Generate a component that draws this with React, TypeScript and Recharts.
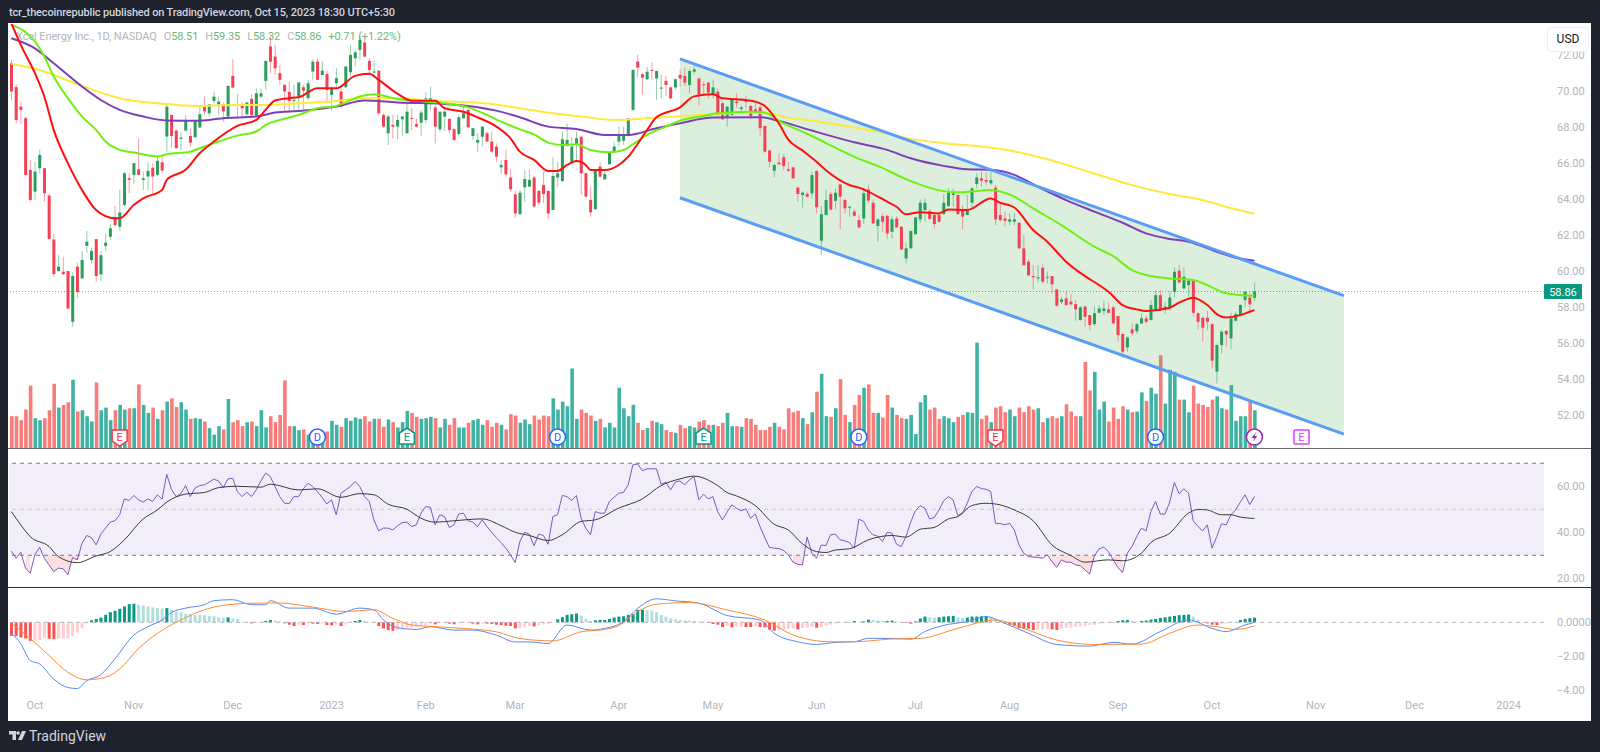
import { Area, Bar, Cell, ComposedChart, Line, ReferenceArea, ReferenceDot, ReferenceLine, XAxis, YAxis } from "recharts";

type Candle = [number, number, number, number];
type Point = [number, number];

// open, high, low, close for each daily bar, Sep 2022 -> Oct 13 2023
const candles: Candle[] = [
  [71.54,71.73,69.5,69.97],[70.21,70.34,68.21,68.39],[69.13,69.41,68.17,68.95],[68.49,68.58,65.25,65.34],[65.62,66.17,63.86,63.95],
  [64.41,66.08,63.95,65.52],[65.71,66.73,65.43,66.45],[65.71,65.71,63.86,64.32],[64.19,64.3,61.7,61.78],[61.75,62.09,59.68,59.83],
  [60.0,60.88,59.96,60.24],[59.96,60.79,59.77,59.83],[60.0,60.0,57.9,57.92],[57.18,59.96,56.9,59.72],[60.24,60.46,58.53,58.83],
  [59.59,61.11,59.55,60.61],[61.4,62.22,61.0,61.63],[60.61,61.29,60.42,61.11],[61.77,61.77,59.4,59.72],[59.81,61.11,59.46,60.88],
  [61.4,62.09,61.13,61.57],[61.9,62.61,61.72,62.37],[63.0,63.6,62.5,62.55],[62.46,64.5,62.24,63.25],[63.67,65.5,63.6,65.43],
  [65.15,65.43,64.32,65.06],[65.34,65.99,64.84,65.99],[65.65,67.37,65.34,65.34],[65.06,65.52,64.5,65.15],[65.25,66.04,64.5,65.56],
  [65.74,65.99,64.23,65.25],[65.34,66.41,65.25,66.12],[66.04,66.36,65.43,65.58],[67.47,69.32,66.63,69.13],[68.67,68.67,66.82,67.5],
  [67.8,67.85,66.8,66.82],[67.34,67.75,66.73,67.41],[67.8,68.67,67.75,68.39],[67.5,67.93,66.91,67.13],[67.43,68.4,67.4,68.39],
  [67.97,69.17,67.93,68.71],[69.1,69.69,68.67,68.86],[68.76,69.28,68.58,69.26],[69.45,69.97,69.32,69.69],[69.26,69.69,68.67,69.41],
  [69.26,69.36,68.3,68.86],[68.58,70.28,68.49,70.28],[70.84,71.76,70.15,70.19],[69.26,69.82,68.54,69.17],[69.17,69.36,68.58,69.04],
  [68.71,69.41,68.58,69.36],[69.56,69.82,68.58,68.67],[68.63,70.15,68.58,69.87],[69.69,70.15,69.6,69.87],[70.56,71.67,70.06,71.67],
  [72.47,73.02,70.99,71.63],[71.91,72.56,70.89,71.26],[70.99,71.45,70.34,70.62],[70.34,70.34,68.86,69.97],[69.95,70.52,68.86,69.45],
  [69.45,70.34,68.86,69.5],[69.69,70.47,68.95,70.47],[70.21,70.34,68.95,70.02],[69.6,70.62,69.5,70.43],[71.08,71.76,70.62,71.63],
  [71.63,71.8,70.6,70.62],[70.89,71.63,70.89,71.13],[70.95,71.13,69.32,70.06],[69.78,70.25,68.91,70.15],[70.43,71.26,70.25,70.71],
  [69.97,70.15,69.04,69.13],[70.21,71.36,70.15,71.36],[71.04,72.56,70.8,72.0],[71.82,72.28,71.36,72.15],[72.28,73.02,71.73,72.84],
  [72.69,72.93,71.87,71.91],[71.67,71.82,70.89,71.17],[71.02,71.73,70.8,71.08],[71.12,71.17,68.67,68.76],[68.67,68.76,67.93,68.02],
  [67.65,68.67,67.0,68.58],[68.12,68.67,67.37,68.02],[68.02,68.67,67.32,68.39],
  [68.43,68.61,67.5,68.58],[67.65,69.5,67.65,68.85],[68.5,69.04,67.83,68.46],[68.17,68.48,67.98,68.02],[68.24,68.95,67.5,68.8],
  [68.39,69.96,68.2,69.59],[69.41,70.24,68.95,69.59],[69.09,69.22,67.09,68.02],[67.87,68.85,67.74,68.85],[68.58,69.13,67.78,68.85],
  [68.45,68.48,67.65,67.83],[67.87,67.93,67.19,67.28],[67.61,68.67,67.46,68.54],[68.48,69.22,68.48,68.76],[68.95,68.98,67.96,67.98],
  [67.5,67.96,67.28,67.93],[67.13,67.65,66.63,67.28],[67.46,68.06,66.91,68.02],[67.65,67.74,67.18,67.19],[67.19,67.74,66.57,66.63],
  [66.91,67.09,66.07,66.35],[65.76,66.13,65.39,65.89],[66.17,66.76,65.24,65.37],[65.19,65.65,64.41,64.54],[64.26,64.45,62.96,63.2],
  [63.17,64.5,63.11,64.35],[64.65,65.61,63.85,65.11],[64.69,65.61,64.65,65.06],[65.19,65.28,63.48,63.58],[64.45,64.5,63.67,63.8],
  [64.78,65.52,63.76,64.28],[64.45,64.45,62.87,63.2],[63.39,66.32,63.39,65.28],[65.2,66.07,64.65,65.43],[65.0,67.74,64.96,67.32],
  [66.95,68.2,66.91,67.28],[66.07,67.43,65.98,66.91],[67.06,67.74,66.07,67.37],[67.46,67.46,64.22,65.43],[65.43,65.46,64.09,64.13],
  [63.95,64.69,63.02,63.26],[63.43,65.6,63.4,65.57],[65.8,66.07,65.19,65.24],[65.09,65.52,65.06,65.39],[65.93,66.6,65.9,66.58],
  [66.63,67.13,66.57,66.91],[67.19,68.02,66.91,67.5],[67.24,68.02,67.0,67.5],[67.61,68.5,67.46,68.48],[68.95,71.2,68.9,71.17],
  [71.63,72.0,70.74,71.3],[70.93,70.98,69.78,70.74],[70.65,71.32,70.61,71.07],[71.17,71.59,70.61,71.11],[70.7,71.13,69.5,71.11],
  [70.13,70.89,69.59,70.19],[70.56,70.83,69.74,70.33],[70.2,70.24,69.54,69.59],[70.2,70.7,70.06,70.65],[70.89,71.2,70.24,70.7],
  [70.83,71.3,70.28,70.46],[70.33,71.2,69.87,71.11],[71.07,71.39,70.93,71.2],[70.7,70.7,69.22,69.78],[70.37,70.52,69.72,70.32],
  [70.46,70.52,69.59,69.91],[69.78,70.61,69.59,70.2],[69.96,70.15,68.61,68.67],[69.32,69.41,68.39,68.43],[68.54,69.17,68.02,69.13],
  [68.67,69.6,68.61,69.59],[69.41,69.87,69.04,69.32],[69.0,69.22,68.76,69.09],[69.5,69.72,69.04,69.41],[69.17,69.22,68.43,68.61],
  [68.98,69.41,68.76,68.85],[69.09,69.22,67.5,67.93],[68.06,68.06,66.57,66.63],[66.69,66.76,65.76,66.07],[65.57,65.98,65.2,65.89],
  [66.02,66.54,65.89,65.93],[66.32,66.5,65.61,65.83],[65.65,66.07,65.52,65.57],[65.76,65.8,65.11,65.15],[64.63,64.7,63.85,64.28],
  [64.22,64.41,63.53,64.35],[64.28,64.41,64.09,64.13],[64.31,65.52,64.03,65.33],[65.55,65.61,63.2,63.54],[61.68,63.61,60.89,63.16],
  [63.11,64.53,63.1,63.94],[64.28,64.41,63.35,63.42],[63.9,64.59,63.42,64.35],[64.81,64.81,62.33,64.13],[63.94,64.03,63.2,63.48],
  [63.54,63.61,63.02,63.57],[63.3,63.42,63.02,63.07],[62.83,63.11,62.37,62.42],[62.92,64.65,62.61,64.31],[64.53,64.77,63.79,63.91],
  [63.79,63.98,62.61,62.65],[62.5,62.92,61.63,62.87],[63.05,63.2,62.18,62.74],[63.07,63.11,61.76,62.09],[62.18,63.05,61.81,62.87],
  [62.92,63.05,62.4,62.42],[62.46,62.5,61.16,61.2],[60.7,61.57,60.42,61.26],[61.26,62.25,61.24,62.22],[62.05,63.0,62.0,62.98],
  [62.87,63.98,62.68,63.79],[63.39,64.03,62.74,63.79],[63.33,63.42,62.87,62.89],[63.11,63.15,62.37,62.61],[63.11,63.2,62.68,62.74],
  [63.16,64.28,63.11,63.79],[63.61,64.59,63.57,64.35],[64.22,64.59,63.57,64.31],[64.22,64.31,63.11,63.16],[63.42,63.66,62.31,63.02],
  [63.11,64.22,63.1,63.39],[63.79,64.65,63.42,64.59],[64.83,65.42,64.59,65.2],[65.15,65.52,64.68,65.02],[65.05,65.46,64.78,64.96],
  [64.87,65.61,64.78,65.05],[64.63,64.78,62.55,62.87],[63.11,63.76,62.74,62.83],[62.92,63.29,62.46,62.79],[62.74,63.2,62.55,62.87],
  [62.74,63.24,62.55,62.87],[62.68,62.68,61.2,61.26],[61.26,62.0,60.28,60.33],[60.52,60.65,59.72,59.76],[59.72,60.33,58.98,59.65],
  [59.59,60.33,59.35,59.65],[60.18,60.39,59.31,59.41],[59.63,59.96,59.31,59.68],[59.72,59.72,58.76,59.26],[58.98,58.98,58.02,58.07],
  [58.28,58.57,58.16,58.42],[58.48,58.9,58.07,58.11],[58.3,58.72,58.07,58.15],[58.16,58.39,57.24,57.87],[57.28,58.05,57.24,57.98],
  [58.02,58.11,56.91,57.46],[57.55,57.55,56.72,57.0],[57.05,58.05,56.96,57.65],[57.68,58.11,57.65,57.92],[57.78,58.35,57.55,57.92],
  [57.87,58.24,57.65,57.68],[57.98,58.05,57.05,57.09],[57.5,57.5,56.07,56.44],[56.5,56.54,55.18,55.52],[55.76,56.35,55.52,56.31],
  [56.76,57.09,56.39,56.54],[56.66,57.13,56.5,57.05],[57.09,57.65,57.05,57.37],[57.37,57.5,57.09,57.18],[57.28,58.39,57.24,58.11],
  [57.87,58.94,57.83,58.66],[58.66,58.94,57.83,57.87],[57.87,58.29,57.61,58.02],[57.92,58.85,57.79,58.53],[58.85,60.2,58.53,59.96],
  [60.02,60.33,59.31,59.37],[59.03,60.2,58.98,59.68],[59.22,59.59,58.57,59.46],[59.5,59.5,57.46,57.68],[57.65,57.74,56.76,57.18],
  [57.4,57.46,56.11,56.85],[57.4,57.79,56.72,57.18],[57.05,57.09,54.59,55.02],[54.41,55.98,53.76,55.89],[55.89,56.72,55.42,56.63],
  [56.67,56.72,55.8,56.48],[56.26,57.68,55.65,57.37],[57.24,57.74,57.18,57.61],[57.55,58.16,57.46,58.11],[58.39,58.9,57.98,58.85],
  [58.53,58.75,57.79,58.15],[58.51,59.35,58.32,58.86],
];

// in millions of shares
const volumes = [
  4.8,4.8,4.2,5.8,9.4,4.5,4.2,4.5,5.7,9.7,6.1,6.5,6.9,10.3,5.5,5.7,4.8,4.0,9.9,5.7,6.1,4.2,5.7,6.5,5.8,6.0,6.0,9.6,6.5,5.3,
  6.1,4.4,5.7,7.0,7.5,6.2,6.9,5.8,4.4,4.5,4.4,4.0,3.0,2.0,3.3,2.8,7.4,3.9,4.2,3.3,3.9,4.0,3.3,5.7,3.1,4.8,3.9,5.0,10.2,3.3,
  3.3,2.7,2.8,2.0,2.2,2.4,2.5,2.5,4.1,3.5,3.2,4.5,4.1,4.6,4.4,4.8,4.0,4.4,4.4,3.2,4.3,3.9,3.1,
  3.9,5.6,5.3,4.7,4.4,4.5,4.7,4.5,3.1,4.4,3.5,4.5,3.1,3.1,3.8,4.2,4.4,3.5,4.2,3.2,3.8,3.5,2.8,5.1,4.9,3.8,
  4.3,3.6,4.9,4.3,4.9,4.8,7.5,5.8,7.0,6.3,12.0,4.4,5.8,5.3,4.9,4.1,4.4,3.1,3.8,3.1,9.1,6.0,4.8,6.5,3.8,2.7,3.0,4.1,3.9,3.6,
  2.7,2.4,2.3,3.5,3.0,3.3,3.1,4.0,4.2,3.5,3.5,3.3,3.8,5.3,3.3,3.3,3.2,4.5,4.4,3.5,2.7,2.7,3.2,3.8,3.2,2.8,6.0,5.4,5.6,4.5,
  3.6,5.4,8.5,11.2,
  4.8,4.7,6.0,10.4,5.0,3.9,6.5,8.0,9.1,9.6,5.3,5.3,4.6,8.0,6.1,5.0,4.5,4.4,5.0,2.1,6.9,8.0,5.8,6.1,4.4,4.8,4.5,3.9,4.7,5.0,
  5.4,5.3,15.9,4.4,4.9,3.9,6.1,6.3,5.4,5.8,4.8,6.1,5.4,6.3,5.8,6.0,3.9,4.5,4.8,4.5,4.8,6.6,5.5,4.8,4.8,13.0,8.7,11.5,5.8,7.0,
  4.0,6.1,4.4,6.3,5.8,5.4,5.5,8.4,7.1,9.1,8.2,14.0,6.7,11.8,11.5,7.3,7.3,5.4,9.4,6.7,6.5,6.2,7.3,7.8,6.0,5.8,9.5,4.1,4.8,4.8,
  7.2,5.7,
];

const ma20: Point[] = [
  [0,73.76],[2,72.56],[5,70.99],[7,69.69],[9,67.84],[12,65.99],[15,64.5],[18,63.39],[22,62.93],[23,62.93],[26,63.67],[28,64.04],[32,64.5],[33,65.06],
  [37,65.62],[40,66.54],[43,67.19],[48,68.06],[52,68.39],[54,68.95],[56,69.47],[59,69.6],[61,69.65],[65,70.15],[69,70.15],[73,70.84],[76,70.95],[78,70.62],
  [82,69.85],[85,69.46],[90,69.46],[92,69.04],[96,68.85],[99,68.54],[103,68.02],[106,67.37],[108,66.63],[111,66.17],[114,65.56],[116,65.56],[118,65.89],
  [120,66.11],[122,65.89],[123,65.61],[126,65.61],[129,65.89],[131,66.35],[135,67.83],[137,68.54],[142,69.09],[145,69.7],[149,69.82],[151,69.59],[154,69.54],
  [158,69.41],[160,69.17],[163,68.2],[165,67.3],[168,66.7],[171,66.07],[173,65.6],[178,64.78],[180,64.63],[182,64.41],[186,63.85],[188,63.57],[190,63.15],
  [193,63.26],[197,63.2],[199,63.42],[203,63.39],[208,64.03],[210,63.79],[213,63.53],[217,62.28],[220,61.63],[224,60.52],[228,59.72],[231,59.22],[233,58.85],
  [236,58.11],[239,57.87],[241,57.78],[246,57.96],[248,58.24],[251,58.52],[254,58.11],[256,57.61],[258,57.42],[261,57.55],[263,57.74],[264,57.83],
];
const ma50: Point[] = [
  [0,73.67],[5,72.75],[7,71.91],[9,70.8],[12,69.6],[15,68.58],[18,67.84],[20,67.19],[23,66.73],[26,66.58],[31,66.36],[33,66.49],[38,66.63],[40,66.82],[43,67.1],
  [48,67.52],[52,67.75],[54,68.12],[57,68.39],[61,68.67],[65,69.04],[69,69.17],[74,69.69],[77,69.82],[79,69.73],[82,69.55],[86,69.45],[92,69.32],[97,69.09],
  [101,68.67],[104,68.3],[108,67.87],[111,67.59],[114,67.13],[117,67.0],[120,67.04],[123,66.72],[127,66.59],[130,66.72],[132,67.04],[135,67.56],[139,68.02],
  [142,68.35],[147,68.61],[150,68.76],[157,68.85],[160,68.8],[163,68.34],[170,67.5],[176,66.72],[180,66.23],[184,65.84],[190,65.1],[196,64.55],[201,64.37],
  [208,64.5],[213,64.13],[217,63.48],[223,62.55],[230,61.35],[234,60.83],[238,60.05],[242,59.72],[246,59.59],[251,59.5],[254,59.22],[258,58.76],[263,58.63],[264,58.66],
];
const ma100: Point[] = [
  [0,72.93],[5,72.37],[9,71.54],[15,70.25],[19,69.5],[23,68.95],[28,68.58],[33,68.36],[39,68.34],[45,68.49],[52,68.58],[56,68.8],[61,68.89],[69,69.13],[75,69.47],
  [82,69.36],[92,69.28],[97,69.17],[103,68.91],[108,68.54],[114,68.02],[120,67.89],[126,67.56],[131,67.56],[137,67.93],[142,68.2],[149,68.52],[159,68.54],
  [163,68.34],[170,67.8],[179,67.15],[186,66.73],[191,66.26],[198,65.84],[203,65.65],[208,65.62],[213,65.34],[218,64.68],[224,63.94],[230,63.3],[236,62.68],
  [241,62.09],[246,61.78],[250,61.63],[256,61.07],[260,60.74],[263,60.61],[264,60.57],
];
const ma200: Point[] = [
  [0,71.5],[5,71.23],[9,70.89],[15,70.28],[23,69.6],[33,69.28],[39,69.17],[48,69.22],[54,69.22],[61,69.32],[68,69.41],[75,69.6],[82,69.6],[90,69.45],[97,69.37],
  [102,69.28],[108,69.04],[115,68.76],[121,68.58],[128,68.39],[132,68.43],[138,68.54],[144,68.63],[150,68.72],[157,68.8],[162,68.72],[163,68.63],[170,68.36],
  [177,68.06],[184,67.75],[191,67.34],[198,67.1],[206,66.91],[212,66.69],[220,66.21],[231,65.33],[238,64.77],[246,64.28],[252,64.0],[258,63.57],[263,63.24],[264,63.18],
];

const channelTop: Point[] = [[142,71.78],[283,58.63]];
const channelBottom: Point[] = [[142,64.07],[283,50.94]];

const rsi = [
  31.8,28.7,31.3,24.4,22.2,30.2,33.5,28.7,25.8,22.9,24.4,24.1,21.5,29.0,28.0,35.2,38.6,37.7,34.5,39.2,
  41.8,44.4,45.0,47.6,54.5,53.8,56.0,54.1,53.1,54.5,53.4,56.3,54.4,65.2,58.7,55.5,56.8,60.3,55.5,59.2,
  60.3,60.6,61.8,63.1,62.3,59.4,63.2,63.5,57.7,55.5,57.4,55.5,58.4,62.3,65.7,64.2,59.9,55.5,52.6,
  52.5,55.5,55.5,58.9,61.3,59.9,57.7,55.1,52.3,54.1,47.6,57.0,58.4,59.9,62.1,59.9,55.5,53.4,45.4,40.6,
  41.8,41.8,41.0,42.8,44.2,44.4,42.5,43.2,48.3,51.2,50.8,43.2,47.6,46.8,42.1,43.2,47.9,48.3,45.0,44.4,
  42.5,45.4,42.5,40.0,37.7,35.5,33.1,30.2,26.8,36.0,40.0,39.2,34.1,39.2,38.6,34.8,46.8,47.6,56.0,55.5,
  53.8,56.0,46.1,41.8,38.9,49.0,48.3,48.3,53.4,55.2,57.0,57.3,60.6,69.3,69.7,66.8,67.6,67.6,67.6,60.9,
  61.8,58.4,61.8,62.3,60.6,62.8,64.2,54.1,56.6,54.5,55.5,49.0,45.4,48.7,51.9,50.5,49.3,50.2,46.1,47.9,
  42.5,37.7,33.4,33.1,32.9,32.1,30.2,27.0,26.1,25.8,37.9,30.9,28.7,34.5,34.2,38.9,39.2,36.7,36.3,
  35.5,33.1,45.7,44.7,41.0,38.9,38.3,36.0,40.0,39.6,34.8,33.8,38.1,44.4,49.4,51.5,50.5,45.8,46.4,49.7,
  53.7,55.5,54.1,47.3,48.3,52.6,57.7,59.9,59.0,58.7,57.7,43.9,43.8,43.2,43.9,41.0,34.5,30.9,29.4,29.2,
  29.0,28.7,30.2,27.3,24.7,28.0,27.0,27.0,25.8,25.5,23.7,21.8,29.7,32.8,33.5,31.6,28.0,24.7,22.5,30.9,
  33.8,38.1,41.8,40.6,49.0,53.4,47.9,47.9,53.1,61.6,56.7,58.9,57.0,45.0,42.5,40.6,43.2,33.1,38.1,43.7,
  43.2,47.6,49.7,53.1,56.3,52.0,55.6,
];
const rsiMa: Point[] = [
  [0,49.0],[2,43.2],[4,38.1],[8,33.8],[10,29.4],[14,26.8],[18,29.7],[21,31.6],[24,36.7],[28,45.8],[31,49.7],[33,53.1],[37,56.6],[41,57.3],[44,59.4],[48,60.0],
  [53,59.6],[55,60.9],[61,58.4],[65,58.9],[70,55.2],[74,56.8],[77,56.3],[80,52.2],[84,50.0],[87,46.1],[90,44.4],[94,45.0],[100,45.8],[104,42.9],[107,40.0],
  [110,38.6],[114,36.4],[117,38.9],[121,44.7],[124,45.4],[129,50.5],[134,54.5],[138,60.3],[142,63.2],[145,64.4],[150,60.3],[152,57.3],[154,55.8],[158,51.6],
  [162,43.5],[165,41.0],[168,35.0],[171,31.6],[173,31.2],[175,32.3],[178,32.8],[182,36.7],[187,38.6],[190,37.9],[193,41.3],[196,42.1],[199,45.8],[201,46.8],
  [204,51.6],[207,52.6],[210,51.9],[213,49.7],[217,45.0],[221,34.5],[225,29.9],[228,27.0],[233,28.0],[236,27.6],[240,30.9],[242,35.5],[246,39.6],[250,48.3],
  [252,49.9],[254,49.7],[257,47.6],[259,47.6],[261,46.6],[264,46.0],
];

const macdLine: Point[] = [
  [0,-.65],[2,-1.26],[4,-2.26],[6,-2.46],[9,-3.36],[12,-3.86],[14,-3.92],[16,-3.46],[19,-3.1],[22,-2.16],[26,-.76],[29,-.26],[32,.14],[34,.58],[37,.84],[41,1.04],
  [43,1.28],[47,1.34],[51,1.04],[54,1.04],[55,1.28],[59,.84],[64,.84],[69,.48],[74,.84],[77,.74],[79,.14],[82,-.32],[86,-.42],[89,-.26],[94,-.46],[98,-.46],
  [103,-.76],[107,-1.16],[110,-1.16],[114,-1.26],[118,-.16],[123,-.46],[126,-.36],[130,.04],[133,.83],[137,1.39],[141,1.27],[146,1.13],[152,.4],[159,.14],
  [162,-.65],[167,-1.15],[171,-1.31],[175,-1.19],[179,-1.15],[182,-.95],[187,-.95],[191,-1.0],[194,-.55],[199,-.12],[203,.04],[207,.34],[211,-.06],[216,-.65],
  [222,-1.31],[229,-1.41],[234,-1.19],[238,-1.29],[244,-.55],[250,.14],[255,-.36],[258,-.55],[262,-.16],[264,0],
];
const signalLine: Point[] = [
  [0,-.06],[4,-.96],[8,-1.96],[12,-2.96],[16,-3.4],[20,-3.26],[23,-2.76],[27,-1.56],[31,-.66],[36,.14],[41,.74],[46,1.04],[53,1.14],[57,1.14],[64,.9],[71,.64],
  [77,.74],[81,.24],[85,-.16],[90,-.26],[98,-.4],[103,-.56],[108,-.96],[115,-1.1],[121,-.56],[126,-.42],[129,-.2],[133,.63],[137,1.07],[144,1.17],[152,.73],
  [160,.14],[166,-.75],[174,-1.15],[179,-1.15],[187,-.99],[193,-.95],[201,-.36],[209,.14],[214,-.26],[222,-1.05],[230,-1.31],[240,-1.29],[246,-.65],[252,-.16],
  [256,-.26],[260,-.42],[264,-.22],
];
const macdHist = [
  -.8,-.82,-.9,-.96,-1.1,-1.06,-1.05,-.9,-.97,-1.0,-.96,-.95,-.94,-.82,-.6,-.36,-.06,.12,.2,.28,.44,.6,.68,.8,.94,1.08,1.1,
  1.04,1.0,.94,.88,.84,.82,.84,.74,.64,.6,.5,.48,.44,.43,.42,.38,.36,.3,.28,.29,.22,.18,.04,0,-.06,-.04,-.02,.08,.14,.1,.04,
  -.06,-.14,-.22,-.14,-.16,-.06,-.08,-.1,-.08,-.16,-.18,-.12,-.22,-.12,-.04,.08,.14,.08,.02,-.02,-.22,-.36,-.46,-.5,-.46,-.42,
  -.36,-.32,-.26,-.2,-.16,-.08,-.12,-.06,-.04,-.08,-.12,-.06,-.04,-.03,-.08,-.12,-.08,-.08,-.1,-.14,-.16,-.2,-.22,-.36,-.34,-.3,
  -.22,-.24,-.16,-.12,-.1,0,.18,.3,.44,.48,.52,.4,.2,.08,.12,.14,.14,.2,.28,.34,.36,.44,.5,.74,.74,.72,.7,.6,.44,.34,.24,.18,
  .14,.12,.1,.08,.06,.04,-.04,-.1,-.14,-.28,-.22,-.3,-.28,-.26,-.28,-.28,-.24,-.28,-.3,-.44,-.5,-.44,-.42,-.38,-.36,-.42,
  -.34,-.3,-.28,-.32,-.3,-.2,-.14,-.08,-.04,-.02,.02,.08,.02,.06,.16,.14,.12,.08,.08,.1,.06,.02,-.04,-.08,.06,.22,.34,.3,.28,
  .3,.34,.36,.38,.3,.26,.28,.34,.34,.36,.36,.3,.2,.06,-.06,-.14,-.22,-.34,-.36,-.38,-.46,-.44,-.42,-.4,-.42,-.46,-.38,-.34,-.3,
  -.26,-.24,-.2,-.16,-.14,-.1,-.06,-.04,.02,.08,.12,.14,.08,.04,.08,.1,.16,.2,.26,.3,.34,.38,.42,.44,.46,.34,.16,-.02,-.06,
  -.14,-.16,-.1,-.08,-.04,.02,.14,.2,.24,.28,
];

const priceTicks = [52, 54, 56, 58, 60, 62, 64, 66, 68, 70, 72];
const rsiTicks = [20, 40, 60];
const macdTicks = [-4, -2, 0];
const timeLabels: Record<number, string> = {
  5: "Oct", 26: "Nov", 47: "Dec", 68: "2023", 88: "Feb", 107: "Mar", 129: "Apr", 149: "May", 171: "Jun", 192: "Jul",
  212: "Aug", 235: "Sep", 255: "Oct", 277: "Nov", 298: "Dec", 318: "2024",
};
const lastPrice = 58.86;
const slotCount = 326;

const toMap = (pts: Point[]) => new Map(pts);
const topMap = toMap(channelTop);
const bottomMap = toMap(channelBottom);
const ma20Map = toMap(ma20);
const ma50Map = toMap(ma50);
const ma100Map = toMap(ma100);
const ma200Map = toMap(ma200);
const rsiMaMap = toMap(rsiMa);
const macdMap = toMap(macdLine);
const signalMap = toMap(signalLine);

const rows = Array.from({ length: slotCount }, (_, i) => {
  const c = candles[i];
  return {
    idx: i,
    open: c?.[0], high: c?.[1], low: c?.[2], close: c?.[3],
    volume: volumes[i],
    ma20: ma20Map.get(i), ma50: ma50Map.get(i), ma100: ma100Map.get(i), ma200: ma200Map.get(i),
    top: topMap.get(i), bottom: bottomMap.get(i),
    rsi: rsi[i], rsiMa: rsiMaMap.get(i),
    macd: macdMap.get(i), signal: signalMap.get(i), hist: macdHist[i],
  };
});

const UP = "#2a9d5c";
const DOWN = "#f43f55";
const TICK = { fill: "#b2b5be", fontSize: 11 };

function histColor(i: number) {
  const v = macdHist[i];
  const prev = i > 0 ? macdHist[i - 1] : v;
  if (v >= 0) return v >= prev ? "#089981" : "#b2dfdb";
  return v <= prev ? "#ff5252" : "#ffcdd2";
}

function CandleShape(props: any) {
  const { x, y, width, height, payload } = props;
  if (!payload || payload.open == null) return null;
  const { open, high, low, close } = payload;
  const perUnit = height / (high - low);
  const bodyTop = y + (high - Math.max(open, close)) * perUnit;
  const bodyH = Math.max(Math.abs(open - close) * perUnit, 1);
  const color = close >= open ? UP : DOWN;
  return (
    <g>
      <line x1={x + width / 2} x2={x + width / 2} y1={y} y2={y + height} stroke={color} strokeOpacity={0.5} strokeWidth={1} />
      <rect x={x} y={bodyTop} width={width} height={bodyH} fill={color} />
    </g>
  );
}

function PriceTag({ viewBox }: any) {
  const x = viewBox.x + viewBox.width;
  return (
    <g>
      <rect x={x} y={viewBox.y - 7.5} width={38} height={15} rx={1} fill="#089981" />
      <text x={x + 19} y={viewBox.y + 4} textAnchor="middle" fill="#fff" fontSize={11}>{lastPrice.toFixed(2)}</text>
    </g>
  );
}

function TimeTick({ x, y, payload }: any) {
  const label = timeLabels[payload.value];
  if (!label) return null;
  return <text x={x} y={y + 4} textAnchor="middle" fill="#b2b5be" fontSize={11}>{label}</text>;
}

function EventMark({ cx, cy, kind, color }: any) {
  if (kind === "D") {
    return (
      <g>
        <circle cx={cx} cy={cy} r={8} fill="#fff" stroke={color} strokeWidth={1.5} />
        <text x={cx} y={cy + 4} textAnchor="middle" fontSize={11} fill={color}>D</text>
      </g>
    );
  }
  if (kind === "S") {
    return (
      <g>
        <circle cx={cx} cy={cy} r={8} fill="#fff" stroke={color} strokeWidth={1.5} />
        <path d={`M${cx + 2} ${cy - 5}L${cx - 3} ${cy + 1}H${cx}L${cx - 2} ${cy + 5}L${cx + 3} ${cy - 1}H${cx}Z`} fill={color} />
      </g>
    );
  }
  if (kind === "Emag") {
    return (
      <g>
        <rect x={cx - 7.5} y={cy - 7} width={15} height={14} rx={1} fill="#fff" stroke={color} strokeWidth={1.5} />
        <text x={cx} y={cy + 4} textAnchor="middle" fontSize={11} fill={color}>E</text>
      </g>
    );
  }
  return (
    <g>
      <path
        d={kind === "Eup"
          ? `M${cx} ${cy - 9}L${cx + 7.5} ${cy - 4}V${cy + 7}H${cx - 7.5}V${cy - 4}Z`
          : `M${cx} ${cy + 9}L${cx + 7.5} ${cy + 4}V${cy - 7}H${cx - 7.5}V${cy + 4}Z`}
        fill="#fff"
        stroke={color}
        strokeWidth={1.5}
      />
      <text x={cx} y={cy + 4} textAnchor="middle" fontSize={11} fill={color}>E</text>
    </g>
  );
}

const events = [
  { i: 23, kind: "Edown", color: "#f23645" },
  { i: 65, kind: "D", color: "#2962ff" },
  { i: 84, kind: "Eup", color: "#089981" },
  { i: 116, kind: "D", color: "#2962ff" },
  { i: 147, kind: "Eup", color: "#089981" },
  { i: 180, kind: "D", color: "#2962ff" },
  { i: 209, kind: "Edown", color: "#f23645" },
  { i: 243, kind: "D", color: "#2962ff" },
  { i: 264, kind: "S", color: "#9c27b0" },
  { i: 274, kind: "Emag", color: "#e040fb" },
];
const eventLevel = 50.78;

const pane = (top: number, height: number): React.CSSProperties => ({ position: "absolute", left: 9, top, width: 1582, height });

export default function App() {
  return (
    <div style={{ position: "absolute", left: 0, top: 0, width: 1600, height: 752, background: "#1e222d", overflow: "hidden", fontFamily: "Roboto, sans-serif" }}>
      <div style={{ position: "absolute", left: 9, top: 6, color: "#d1d4dc", fontSize: 11, letterSpacing: -0.15, fontWeight: 500, whiteSpace: "nowrap" }}>
        tcr_thecoinrepublic published on TradingView.com, Oct 15, 2023 18:30 UTC+5:30
      </div>
      <div style={{ position: "absolute", left: 8, top: 23, width: 1583, height: 698, background: "#fff" }} />
      <div style={{ ...pane(30, 16), left: 16, color: "#b2b5be", fontSize: 11, letterSpacing: -0.1, whiteSpace: "nowrap" }}>
        Xcel Energy Inc., 1D, NASDAQ
        <span style={{ marginLeft: 7 }}>O</span><span style={{ color: "#6cb780" }}>58.51</span>
        <span style={{ marginLeft: 7 }}>H</span><span style={{ color: "#6cb780" }}>59.35</span>
        <span style={{ marginLeft: 7 }}>L</span><span style={{ color: "#6cb780" }}>58.32</span>
        <span style={{ marginLeft: 7 }}>C</span><span style={{ color: "#6cb780" }}>58.86</span>
        <span style={{ marginLeft: 7, color: "#6cb780" }}>+0.71 (+1.22%)</span>
      </div>

      {/* volume sits under the price chart in the same pane */}
      <div style={pane(24, 424)}>
        <ComposedChart width={1582} height={424} data={rows} margin={{ top: 0, right: 47, bottom: 0, left: 0 }} barCategoryGap={0}>
          <XAxis dataKey="idx" hide scale="band" />
          <YAxis hide domain={[0, 64]} />
          <Bar dataKey="volume" barSize={3.6} isAnimationActive={false}>
            {rows.map((r) => (
              <Cell key={r.idx} fill={(r.close ?? 0) >= (r.open ?? 0) ? "#3fb3a3" : "#f77c7a"} />
            ))}
          </Bar>
        </ComposedChart>
      </div>

      <div style={pane(24, 424)}>
        <ComposedChart width={1582} height={424} data={rows} margin={{ top: 0, right: 0, bottom: 0, left: 0 }}>
          <XAxis dataKey="idx" hide scale="band" />
          <YAxis orientation="right" width={47} domain={[50.17, 73.72]} ticks={priceTicks} allowDataOverflow tick={TICK} tickLine={false} axisLine={false} tickMargin={7} tickFormatter={(v: number) => v.toFixed(2)} />
          <Area
            dataKey={(r: any) => (r.top != null ? [r.bottom, r.top] : [null, null])}
            connectNulls
            type="linear"
            fill="#4caf50"
            fillOpacity={0.2}
            stroke="none"
            isAnimationActive={false}
          />
          <Bar dataKey={(r: any) => (r.high != null ? [r.low, r.high] : null)} barSize={3} shape={<CandleShape />} isAnimationActive={false} />
          <ReferenceLine y={lastPrice} stroke="#089981" strokeDasharray="1 2" strokeOpacity={0.7} label={<PriceTag />} />
          <Line dataKey="ma200" type="monotone" connectNulls dot={false} stroke="#ffe93b" strokeWidth={2} isAnimationActive={false} />
          <Line dataKey="ma100" type="monotone" connectNulls dot={false} stroke="#7d3fb8" strokeWidth={2} isAnimationActive={false} />
          <Line dataKey="ma50" type="monotone" connectNulls dot={false} stroke="#70f010" strokeWidth={2} isAnimationActive={false} />
          <Line dataKey="ma20" type="monotone" connectNulls dot={false} stroke="#ff1010" strokeWidth={2} isAnimationActive={false} />
          <Line dataKey="top" connectNulls dot={false} stroke="#5b9cf6" strokeWidth={3} isAnimationActive={false} />
          <Line dataKey="bottom" connectNulls dot={false} stroke="#5b9cf6" strokeWidth={3} isAnimationActive={false} />
          {events.map((e) => (
            <ReferenceDot key={e.i} x={e.i} y={eventLevel} ifOverflow="visible" shape={(p: any) => <EventMark cx={p.cx} cy={p.cy} kind={e.kind} color={e.color} />} />
          ))}
        </ComposedChart>
      </div>

      <div style={{ position: "absolute", left: 1547, top: 27, width: 40, height: 23, border: "1px solid #eceef2", borderRadius: 4, background: "#fff", color: "#131722", fontSize: 12, lineHeight: "23px", textAlign: "center" }}>USD</div>

      <div style={{ position: "absolute", left: 8, top: 448, width: 1583, height: 1, background: "#6a6d78" }} />
      <div style={pane(449, 138)}>
        <ComposedChart width={1582} height={138} data={rows} margin={{ top: 0, right: 0, bottom: 0, left: 0 }}>
          <XAxis dataKey="idx" hide scale="band" />
          <YAxis orientation="right" width={47} domain={[16.2, 76.2]} ticks={rsiTicks} tick={TICK} tickLine={false} axisLine={false} tickMargin={7} tickFormatter={(v: number) => v.toFixed(2)} />
          <ReferenceArea y1={30} y2={70} fill="#7e57c2" fillOpacity={0.1} stroke="none" />
          <ReferenceLine y={70} stroke="#787b86" strokeDasharray="4 4" />
          <ReferenceLine y={50} stroke="#c9cad0" strokeDasharray="4 4" />
          <ReferenceLine y={30} stroke="#787b86" strokeDasharray="4 4" />
          <Area dataKey={(r: any) => (r.rsi != null && r.rsi < 30 ? [r.rsi, 30] : null)} type="linear" fill="#f23645" fillOpacity={0.16} stroke="none" isAnimationActive={false} />
          <Line dataKey="rsi" type="linear" dot={false} stroke="#7e57c2" strokeWidth={1} isAnimationActive={false} />
          <Line dataKey="rsiMa" type="monotone" connectNulls dot={false} stroke="#3a3a3a" strokeWidth={1} isAnimationActive={false} />
        </ComposedChart>
      </div>

      <div style={{ position: "absolute", left: 8, top: 587, width: 1583, height: 1, background: "#2a2e39" }} />
      <div style={pane(588, 133)}>
        <ComposedChart width={1582} height={133} data={rows} margin={{ top: 0, right: 0, bottom: 0, left: 0 }}>
          <XAxis dataKey="idx" scale="band" height={24} interval={0} tickLine={false} axisLine={false} tick={<TimeTick />} />
          <YAxis orientation="right" width={47} domain={[-4.42, 2.03]} ticks={macdTicks} tick={TICK} tickLine={false} axisLine={false} tickMargin={7} tickFormatter={(v: number) => (v === 0 ? "0.0000" : "\u2212" + Math.abs(v).toFixed(2))} />
          <ReferenceLine y={0} stroke="#b2b5be" strokeDasharray="4 4" />
          <Bar dataKey="hist" barSize={3} isAnimationActive={false}>
            {rows.map((r) => (
              <Cell key={r.idx} fill={r.hist != null ? histColor(r.idx) : "none"} />
            ))}
          </Bar>
          <Line dataKey="macd" type="monotone" connectNulls dot={false} stroke="#5b87f5" strokeWidth={1} isAnimationActive={false} />
          <Line dataKey="signal" type="monotone" connectNulls dot={false} stroke="#ff8a33" strokeWidth={1} isAnimationActive={false} />
        </ComposedChart>
      </div>

      <svg style={{ position: "absolute", left: 9, top: 731 }} width={17} height={11} viewBox="0 0 17 11">
        <path d="M0 0H7V9H3.5V3.5H0Z" fill="#d1d4dc" />
        <circle cx={9} cy={2} r={1.8} fill="#d1d4dc" />
        <path d="M13 0H17L13 9H9Z" fill="#d1d4dc" />
      </svg>
      <div style={{ position: "absolute", left: 29, top: 728, color: "#d1d4dc", fontSize: 14 }}>TradingView</div>
    </div>
  );
}
